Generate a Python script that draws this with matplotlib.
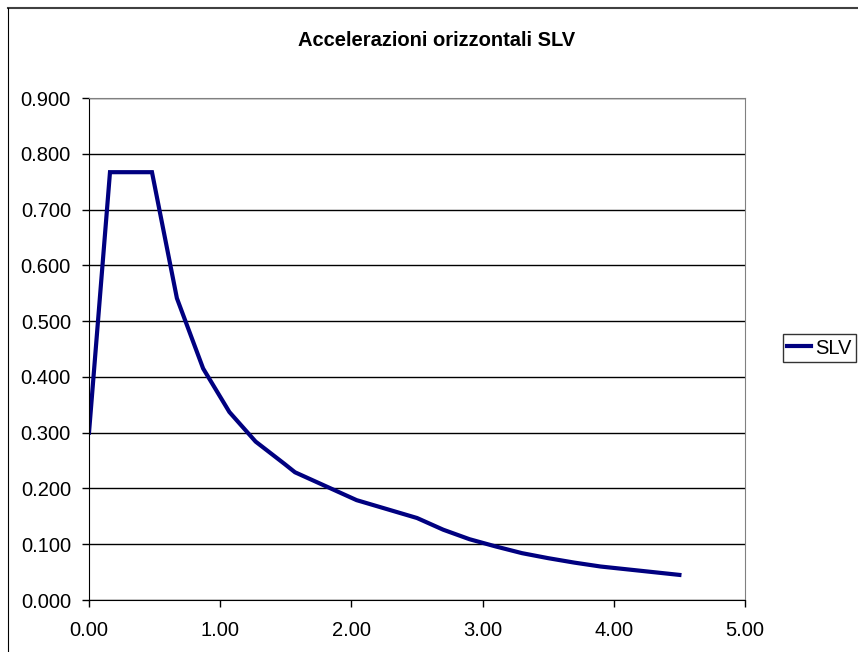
import matplotlib
matplotlib.use("Agg")
import matplotlib.pyplot as plt
from matplotlib.lines import Line2D
from matplotlib.ticker import FormatStrFormatter, MultipleLocator

plt.rcParams['font.family'] = ['Liberation Sans', 'DejaVu Sans']

# Dati (periodo T [s], accelerazione Se [g])
periodo = [0.00, 0.16, 0.48, 0.67, 0.87, 1.07, 1.27, 1.49, 1.57, 2.04, 2.50,
           2.70, 2.90, 3.10, 3.30, 3.50, 3.70, 3.90, 4.10, 4.30, 4.50]
accel = [0.300, 0.767, 0.767, 0.541, 0.415, 0.337, 0.284, 0.244, 0.229, 0.179, 0.147,
         0.126, 0.109, 0.096, 0.084, 0.075, 0.067, 0.060, 0.055, 0.050, 0.045]
serie = "SLV"
titolo = "Accelerazioni orizzontali SLV"

W, H = 858, 652
fig = plt.figure(figsize=(W / 100, H / 100), dpi=100)
ax = fig.add_axes([89/W, 1 - 600/H, (745 - 89)/W, (600 - 98)/H])

# bordo esterno del grafico (tagliato a destra e in basso)
fig.lines.append(Line2D([7.5/W, 1.0], [1 - 7.5/H, 1 - 7.5/H], transform=fig.transFigure,
                        color='#404040', linewidth=1.5))
fig.lines.append(Line2D([7.5/W, 7.5/W], [0, 1 - 7.5/H], transform=fig.transFigure,
                        color='black', linewidth=0.8))

ax.plot(periodo, accel, color='#000080', linewidth=3, label=serie, solid_joinstyle='miter')

ax.set_xlim(0, 5)
ax.set_ylim(0, 0.9)
ax.xaxis.set_major_locator(MultipleLocator(1))
ax.yaxis.set_major_locator(MultipleLocator(0.1))
ax.xaxis.set_major_formatter(FormatStrFormatter('%.2f'))
ax.yaxis.set_major_formatter(FormatStrFormatter('%.3f'))
ax.tick_params(direction='out', length=5, width=1, colors='black', labelsize=14.5)
ax.tick_params(axis='y', pad=8)
ax.tick_params(axis='x', pad=10)
ax.yaxis.grid(True, color='black', linewidth=1)
ax.set_axisbelow(True)
for s in ['top', 'right']:
    ax.spines[s].set_color('#808080')
for s in ['left', 'bottom']:
    ax.spines[s].set_color('black')

fig.text(437/W, 1 - 40/H, titolo, ha='center', va='center', fontsize=14.5, fontweight='bold')

leg = fig.legend(loc='center left', bbox_to_anchor=(783/W, 1 - 348/H), fontsize=14.5,
                 frameon=True, fancybox=False, edgecolor='black', handlelength=1.2,
                 handletextpad=0.2, borderpad=0.2, borderaxespad=0)
leg.get_frame().set_linewidth(1)

fig.savefig("out.png", dpi=100)
